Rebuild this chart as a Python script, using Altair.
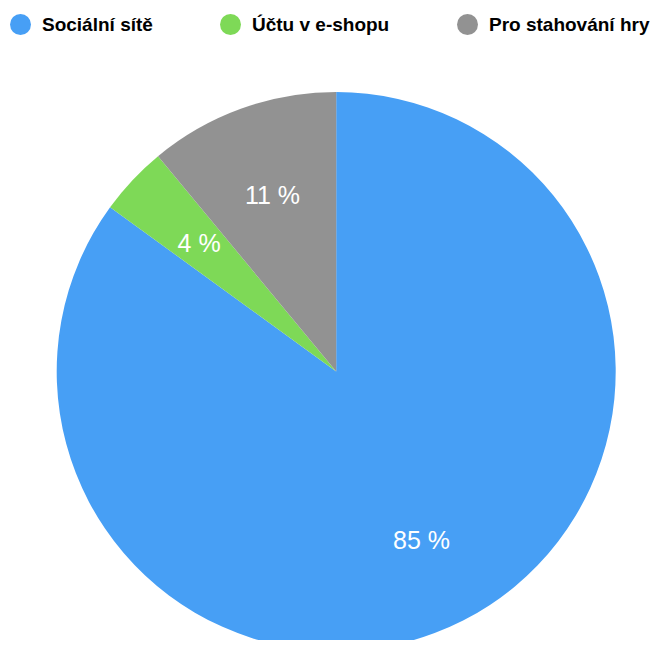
import altair as alt
import pandas as pd

categories = ["Sociální sítě", "Účtu v e-shopu", "Pro stahování hry"]
values = [85, 4, 11]
colors = ["#479ff5", "#7ed957", "#929292"]

df = pd.DataFrame({"kat": categories, "val": values, "ord": [0, 1, 2]})
df["lab"] = df["val"].astype(str) + " %"

base = alt.Chart(df).encode(
    theta=alt.Theta("val:Q", stack=True),
    order=alt.Order("ord:Q"),
)

pie = base.mark_arc(outerRadius=279.5).encode(
    x=alt.value(328.2),
    y=alt.value(363.5),
    color=alt.Color(
        "kat:N",
        scale=alt.Scale(domain=categories, range=colors),
        sort=categories,
        legend=alt.Legend(
            title=None,
            orient="none",
            legendX=2,
            legendY=6,
            direction="horizontal",
            symbolType="circle",
            symbolSize=440,
            symbolStrokeWidth=0,
            labelFontSize=19,
            labelFont="Liberation Sans",
            labelFontWeight="bold",
            labelColor="#000000",
            labelOffset=11,
            columnPadding=67,
            labelLimit=300,
        ),
    ),
)

text = base.mark_text(radius=188, fontSize=25, color="white", font="Liberation Sans", dy=1.5).encode(
    x=alt.value(328.2),
    y=alt.value(363.5),
    text="lab:N",
)

chart = (pie + text).properties(
    width=646, height=632, autosize=alt.AutoSizeParams(type="none"), padding=0
).configure_view(stroke=None)

chart.save("out.html", embed_options={"renderer": "svg", "actions": False})
